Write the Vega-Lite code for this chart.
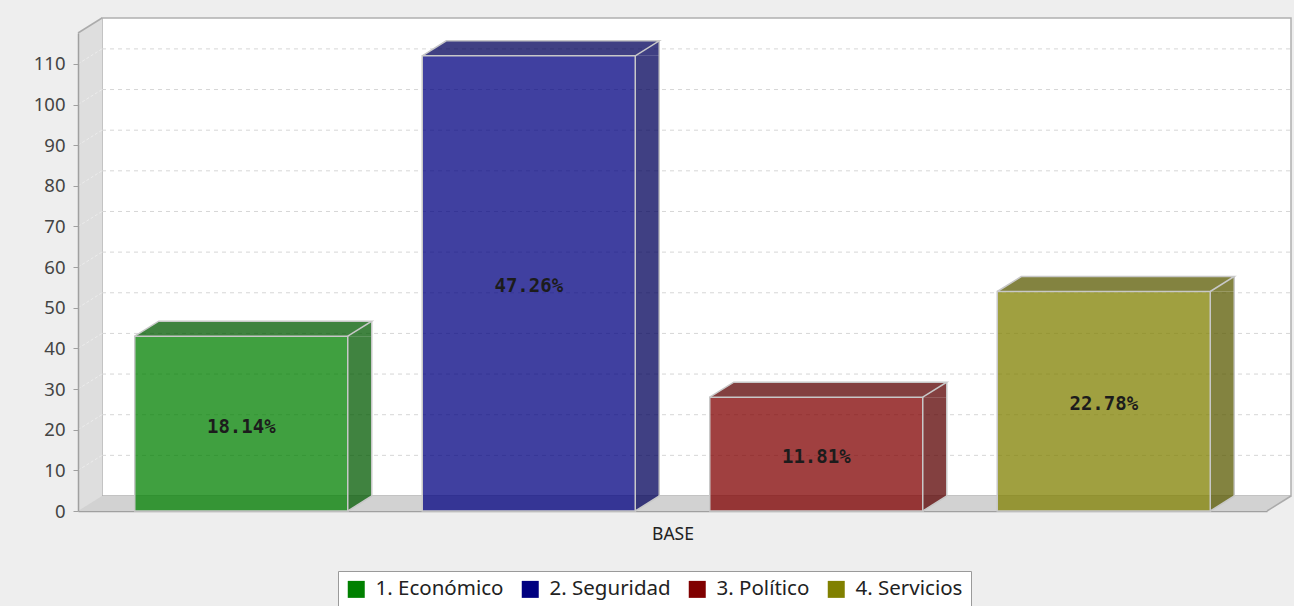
{
  "$schema": "https://vega.github.io/schema/vega-lite/v6.json",
  "width": 1189,
  "height": 478,
  "autosize": {"type": "none"},
  "padding": {"left": 78, "top": 33, "right": 27, "bottom": 95},
  "background": "#eeeeee",
  "config": {"view": {"stroke": null, "fill": null}, "font": "Noto Sans"},
  "datasets": {
    "barras": [
      {"serie": "1. Económico", "valor": 43, "porcentaje": "18.14%"},
      {"serie": "2. Seguridad", "valor": 112, "porcentaje": "47.26%"},
      {"serie": "3. Político", "valor": 28, "porcentaje": "11.81%"},
      {"serie": "4. Servicios", "valor": 54, "porcentaje": "22.78%"}
    ],
    "rejilla": [
      {"valor": 10}, {"valor": 20}, {"valor": 30}, {"valor": 40}, {"valor": 50},
      {"valor": 60}, {"valor": 70}, {"valor": 80}, {"valor": 90}, {"valor": 100}, {"valor": 110}
    ],
    "pared": [{"elemento": "fondo"}]
  },
  "resolve": {"scale": {"x": "independent"}},
  "layer": [
    {
      "data": {"name": "pared"},
      "layer": [
        {
          "mark": {"type": "rect", "fill": "#ffffff", "stroke": "#b0b0b0", "strokeWidth": 1.5, "xOffset": 24, "x2Offset": 24, "yOffset": -15, "y2Offset": -15},
          "encoding": {
            "x": {"datum": 0, "type": "quantitative", "scale": {"domain": [0, 1], "nice": false, "zero": false}, "axis": null},
            "x2": {"datum": 1},
            "y": {"datum": 117.6, "type": "quantitative"},
            "y2": {"datum": 0}
          }
        },
        {
          "data": {"name": "rejilla"},
          "mark": {"type": "rule", "stroke": "#d6d6d6", "strokeWidth": 1, "strokeDash": [4, 4], "xOffset": 24, "x2Offset": 24, "yOffset": -15},
          "encoding": {
            "x": {"datum": 0, "type": "quantitative", "scale": {"domain": [0, 1], "nice": false, "zero": false}, "axis": null},
            "x2": {"datum": 1},
            "y": {"field": "valor", "type": "quantitative", "title": null}
          }
        },
        {
          "mark": {"type": "rect", "fill": "#d2d2d2", "yOffset": -15},
          "encoding": {
            "x": {"datum": 0, "type": "quantitative", "scale": {"domain": [0, 1], "nice": false, "zero": false}, "axis": null},
            "x2": {"datum": 1},
            "y": {"datum": 0, "type": "quantitative"},
            "y2": {"datum": 0}
          }
        },
        {
          "mark": {"type": "point", "shape": "M 0 0 L 24 -15 L 0 -15 Z", "size": 4, "filled": true, "fill": "#d2d2d2", "opacity": 1, "strokeWidth": 0},
          "encoding": {
            "x": {"datum": 1, "type": "quantitative", "scale": {"domain": [0, 1], "nice": false, "zero": false}, "axis": null},
            "y": {"datum": 0, "type": "quantitative"}
          }
        },
        {
          "mark": {"type": "rect", "fill": "#dedede", "x2Offset": 24, "y2Offset": -15},
          "encoding": {
            "x": {"datum": 0, "type": "quantitative", "scale": {"domain": [0, 1], "nice": false, "zero": false}, "axis": null},
            "x2": {"datum": 0},
            "y": {"datum": 117.6, "type": "quantitative"},
            "y2": {"datum": 0}
          }
        },
        {
          "mark": {"type": "point", "shape": "M 0 0 L 24 -15 L 24 0 Z", "size": 4, "filled": true, "fill": "#dedede", "opacity": 1, "strokeWidth": 0},
          "encoding": {
            "x": {"datum": 0, "type": "quantitative", "scale": {"domain": [0, 1], "nice": false, "zero": false}, "axis": null},
            "y": {"datum": 117.6, "type": "quantitative"}
          }
        },
        {
          "mark": {"type": "point", "shape": "M 0 -15 L 24 -15 L 0 0 Z", "size": 4, "filled": true, "fill": "#dedede", "opacity": 1, "strokeWidth": 0},
          "encoding": {
            "x": {"datum": 0, "type": "quantitative", "scale": {"domain": [0, 1], "nice": false, "zero": false}, "axis": null},
            "y": {"datum": 0, "type": "quantitative"}
          }
        },
        {
          "data": {"name": "rejilla"},
          "mark": {"type": "point", "shape": "M 0 0 L 24 -15", "size": 4, "filled": false, "stroke": "#ececec", "strokeWidth": 1, "strokeDash": [3, 2], "opacity": 1},
          "encoding": {
            "x": {"datum": 0, "type": "quantitative", "scale": {"domain": [0, 1], "nice": false, "zero": false}, "axis": null},
            "y": {"field": "valor", "type": "quantitative", "title": null}
          }
        },
        {
          "mark": {"type": "point", "shape": "M 0 0 L 24 -15", "size": 4, "filled": false, "stroke": "#ababab", "strokeWidth": 1.5, "opacity": 1},
          "encoding": {
            "x": {"datum": 0, "type": "quantitative", "scale": {"domain": [0, 1], "nice": false, "zero": false}, "axis": null},
            "y": {"datum": 117.6, "type": "quantitative"}
          }
        },
        {
          "mark": {"type": "point", "shape": "M 0 0 L 24 -15", "size": 4, "filled": false, "stroke": "#ababab", "strokeWidth": 1.5, "opacity": 1},
          "encoding": {
            "x": {"datum": 1, "type": "quantitative", "scale": {"domain": [0, 1], "nice": false, "zero": false}, "axis": null},
            "y": {"datum": 0, "type": "quantitative"}
          }
        }
      ]
    },
    {
      "data": {"name": "barras"},
      "encoding": {
        "x": {
          "field": "serie",
          "type": "nominal",
          "sort": null,
          "scale": {"paddingInner": 0.25913, "paddingOuter": 0.19739},
          "axis": {
            "title": "BASE",
            "labels": false,
            "ticks": false,
            "domain": true,
            "domainColor": "#a0a0a0",
            "domainWidth": 1.5,
            "titleFont": "Noto Sans",
            "titleFontSize": 17.5,
            "titleFontWeight": "normal",
            "titleColor": "#222222",
            "titlePadding": 14
          }
        }
      },
      "layer": [
        {
          "mark": {"type": "bar", "width": 24, "xOffset": 118.5, "y2Offset": -15, "fillOpacity": 0.75},
          "encoding": {
            "y": {"field": "valor", "type": "quantitative", "title": null},
            "y2": {"datum": 0},
            "fill": {"field": "serie", "type": "nominal", "sort": null, "scale": {"range": ["#005900", "#000059", "#590000", "#595900"]}, "legend": null}
          }
        },
        {
          "mark": {"type": "point", "shape": "M 106.5 -15 L 106.5 0 L 130.5 -15 Z", "size": 4, "filled": true, "opacity": 1, "fillOpacity": 0.75, "strokeWidth": 0},
          "encoding": {
            "y": {"datum": 0, "type": "quantitative"},
            "fill": {"field": "serie", "type": "nominal", "sort": null, "legend": null}
          }
        },
        {
          "mark": {"type": "point", "shape": "M -106.5 0 L 130.5 0 L 130.5 -15 L -82.5 -15 Z", "size": 4, "filled": true, "opacity": 1, "fillOpacity": 0.75, "strokeWidth": 0},
          "encoding": {
            "y": {"field": "valor", "type": "quantitative", "title": null},
            "fill": {"field": "serie", "type": "nominal", "sort": null, "legend": null}
          }
        },
        {
          "mark": {"type": "bar", "width": 213, "fillOpacity": 0.75, "stroke": "#c8c8c8", "strokeWidth": 1.5},
          "encoding": {
            "y": {
              "field": "valor",
              "type": "quantitative",
              "title": null,
              "scale": {"domain": [0, 117.6], "nice": false},
              "axis": {
                "values": [0, 10, 20, 30, 40, 50, 60, 70, 80, 90, 100, 110],
                "grid": false,
                "domainColor": "#a0a0a0",
                "domainWidth": 1.5,
                "tickColor": "#a0a0a0",
                "tickSize": 5,
                "labelFont": "Noto Sans",
                "labelFontSize": 18.5,
                "labelColor": "#444444",
                "labelPadding": 8,
                "zindex": 1
              }
            },
            "color": {
              "field": "serie",
              "type": "nominal",
              "sort": null,
              "scale": {"range": ["#008000", "#000080", "#800000", "#808000"]},
              "legend": {
                "orient": "none",
                "legendX": 260,
                "legendY": 538,
                "direction": "horizontal",
                "title": null,
                "fillColor": "#ffffff",
                "strokeColor": "#9a9a9a",
                "padding": 8,
                "symbolType": "square",
                "symbolSize": 289,
                "symbolStrokeWidth": 0,
                "symbolOpacity": 1,
                "labelFont": "Noto Sans",
                "labelFontSize": 20.5,
                "labelColor": "#222222",
                "labelOffset": 9,
                "columnPadding": 16
              }
            }
          }
        },
        {
          "mark": {"type": "point", "shape": "M -106.5 0 L -82.5 -15 L 130.5 -15 L 106.5 0", "size": 4, "filled": false, "stroke": "#c8c8c8", "strokeWidth": 1.5, "opacity": 1},
          "encoding": {
            "y": {"field": "valor", "type": "quantitative", "title": null}
          }
        },
        {
          "mark": {"type": "rule", "xOffset": 130.5, "yOffset": -15, "y2Offset": -15, "stroke": "#c8c8c8", "strokeWidth": 1.5},
          "encoding": {
            "y": {"field": "valor", "type": "quantitative", "title": null},
            "y2": {"datum": 0}
          }
        },
        {
          "mark": {"type": "point", "shape": "M 106.5 0 L 130.5 -15", "size": 4, "filled": false, "stroke": "#c8c8c8", "strokeWidth": 1.5, "opacity": 1},
          "encoding": {
            "y": {"datum": 0, "type": "quantitative"}
          }
        },
        {
          "mark": {"type": "text", "font": "DejaVu Sans Mono", "fontWeight": "bold", "fontSize": 19, "color": "#1c1c1c", "baseline": "middle", "dy": 3},
          "encoding": {
            "y": {"field": "valor", "type": "quantitative", "title": null, "stack": "zero", "bandPosition": 0.5},
            "text": {"field": "porcentaje"}
          }
        }
      ]
    }
  ]
}
